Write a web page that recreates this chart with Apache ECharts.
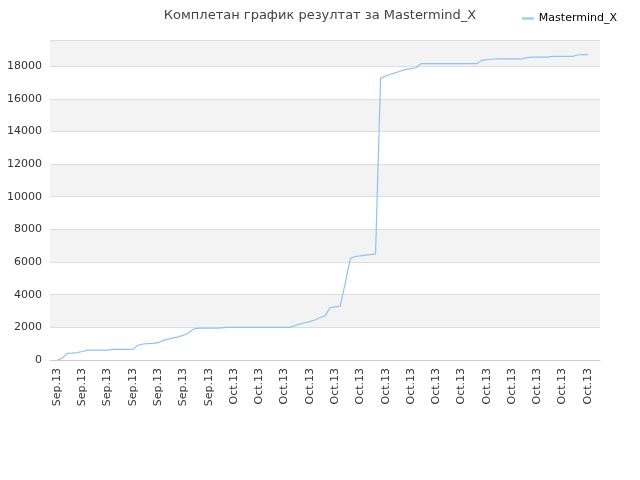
<!DOCTYPE html><html><head><meta charset="utf-8"><script src="https://cdn.jsdelivr.net/npm/echarts@6/dist/echarts.min.js"></script></head><body style="margin:0"><div id="c" style="width:640px;height:480px"></div><script>
const title='Комплетан график резултат за Mastermind_X';
const seriesName='Mastermind_X';
const tickLabels=['Sep.13','Sep.13','Sep.13','Sep.13','Sep.13','Sep.13','Sep.13','Oct.13','Oct.13','Oct.13','Oct.13','Oct.13','Oct.13','Oct.13','Oct.13','Oct.13','Oct.13','Oct.13','Oct.13','Oct.13','Oct.13','Oct.13'];
const values=[0,100,400,420,450,520,600,600,600,600,600,650,650,650,650,650,900,980,1000,1020,1060,1200,1280,1350,1420,1520,1650,1900,1950,1950,1950,1950,1950,1980,2000,2000,2000,2000,2000,2000,2000,2000,2000,2000,2000,2000,2000,2100,2200,2280,2350,2450,2600,2700,3200,3250,3300,4700,6200,6350,6380,6420,6450,6500,17250,17400,17500,17600,17700,17800,17850,17900,18150,18150,18150,18150,18150,18150,18150,18150,18150,18150,18150,18150,18350,18400,18420,18450,18450,18450,18450,18450,18450,18520,18550,18550,18550,18550,18600,18600,18600,18600,18600,18680,18700,18700];
const tickPos=tickLabels.map((t,i)=>i*5);
const ch=echarts.init(document.getElementById('c'));
ch.setOption({
 title:{text:title,left:'center',top:4,textStyle:{fontSize:13,fontWeight:'normal',color:'#444',fontFamily:'DejaVu Sans'}},
 legend:{right:18,top:8,itemWidth:12,itemHeight:2,icon:'rect',textStyle:{fontSize:11,color:'#000',fontFamily:'DejaVu Sans'},data:[seriesName]},
 grid:{left:50,right:40,top:40,bottom:120},
 xAxis:{type:'value',min:-1.4,max:107.4,splitLine:{show:false},axisTick:{show:false},axisLine:{show:true,lineStyle:{color:'#ccc'}},
  axisLabel:{customValues:tickPos,rotate:90,fontSize:11,color:'#333',fontFamily:'DejaVu Sans',formatter:v=>tickLabels[Math.round(v/5)]||''}},
 yAxis:{type:'value',min:0,max:19600,interval:2000,axisLabel:{showMaxLabel:false,fontSize:11,color:'#333',fontFamily:'DejaVu Sans',formatter:v=>String(v)},
  splitLine:{lineStyle:{color:'#ddd'}},splitArea:{show:true,areaStyle:{color:['#ffffff','#f3f3f3']}},axisLine:{show:false},axisTick:{show:false}},
 series:[{name:seriesName,type:'line',data:values.map((v,i)=>[i,v]),symbol:'none',lineStyle:{color:'#8cc4f5',width:1.2},itemStyle:{color:'#8cc4f5'}}]
});
</script></body></html>
